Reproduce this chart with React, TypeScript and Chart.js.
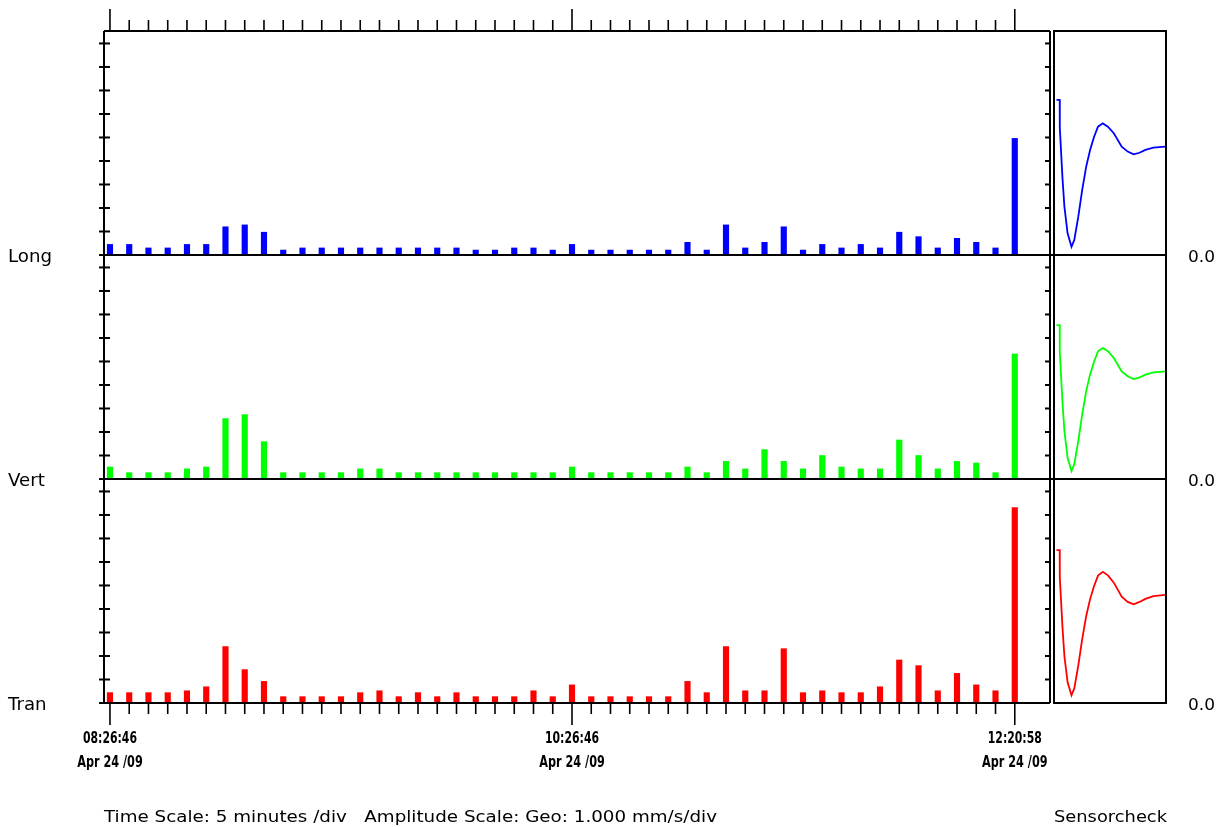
import React, { useEffect, useRef } from "react";
import { Chart, registerables } from "chart.js";

Chart.register(...registerables);

// ---------- data ----------
const barTimes: string[] = [
  "08:26:46", "08:31:46", "08:36:46", "08:41:46", "08:46:46", "08:51:46",
  "08:56:46", "09:01:46", "09:06:46", "09:11:46", "09:16:46", "09:21:46",
  "09:26:46", "09:31:46", "09:36:46", "09:41:46", "09:46:46", "09:51:46",
  "09:56:46", "10:01:46", "10:06:46", "10:11:46", "10:16:46", "10:21:46",
  "10:26:46", "10:31:46", "10:36:46", "10:41:46", "10:46:46", "10:51:46",
  "10:56:46", "11:01:46", "11:06:46", "11:11:46", "11:16:46", "11:21:46",
  "11:26:46", "11:31:46", "11:36:46", "11:41:46", "11:46:46", "11:51:46",
  "11:56:46", "12:01:46", "12:06:46", "12:11:46", "12:16:46", "12:20:58",
];

const longValues: number[] = [
  0.45, 0.45, 0.3, 0.3, 0.45, 0.45, 1.2, 1.28, 0.97, 0.21, 0.3, 0.3,
  0.3, 0.3, 0.3, 0.3, 0.3, 0.3, 0.3, 0.21, 0.21, 0.3, 0.3, 0.21,
  0.45, 0.21, 0.21, 0.21, 0.21, 0.21, 0.54, 0.21, 1.28, 0.3, 0.54, 1.2,
  0.21, 0.45, 0.3, 0.45, 0.3, 0.97, 0.78, 0.3, 0.71, 0.54, 0.3, 4.96,
];

const vertValues: number[] = [
  0.51, 0.27, 0.27, 0.27, 0.43, 0.51, 2.57, 2.74, 1.59, 0.27, 0.27, 0.27,
  0.27, 0.43, 0.43, 0.27, 0.27, 0.27, 0.27, 0.27, 0.27, 0.27, 0.27, 0.27,
  0.51, 0.27, 0.27, 0.27, 0.27, 0.27, 0.51, 0.27, 0.75, 0.43, 1.25, 0.75,
  0.43, 1.0, 0.51, 0.43, 0.43, 1.66, 1.0, 0.43, 0.75, 0.68, 0.27, 5.32,
];

const tranValues: number[] = [
  0.44, 0.44, 0.44, 0.44, 0.52, 0.69, 2.4, 1.42, 0.92, 0.27, 0.27, 0.27,
  0.27, 0.44, 0.52, 0.27, 0.44, 0.27, 0.44, 0.27, 0.27, 0.27, 0.52, 0.27,
  0.77, 0.27, 0.27, 0.27, 0.27, 0.27, 0.92, 0.44, 2.4, 0.52, 0.52, 2.31,
  0.44, 0.52, 0.44, 0.44, 0.69, 1.83, 1.59, 0.52, 1.26, 0.77, 0.52, 8.31,
];

const tickTimes: string[] = ["08:26:46", "10:26:46", "12:20:58"];
const tickDates: string[] = ["Apr 24 /09", "Apr 24 /09", "Apr 24 /09"];

const channelNames: string[] = ["Long", "Vert", "Tran"];
const channelColors: string[] = ["#0000ff", "#00ff00", "#ff0000"];

// sensor check waveform samples
const sensorMs: number[] = [
  2.5, 5.7, 5.8, 8.5, 10.4, 13.6, 17.5, 20.3, 24.3, 28.2, 32.2, 36.1,
  40.1, 44, 48.8, 53.9, 59.8, 67.7, 73.7, 79.6, 85.5, 91.4, 99.4, 111.2,
];
const longWave: number[] = [
  6.6, 6.6, 5.42, 3.26, 2.06, 0.92, 0.35, 0.64, 1.63, 2.77, 3.76, 4.47,
  5.03, 5.46, 5.6, 5.46, 5.18, 4.61, 4.4, 4.28, 4.35, 4.47, 4.57, 4.61,
];
const vertWave: number[] = [
  6.55, 6.55, 5.4, 3.25, 2.05, 0.9, 0.34, 0.63, 1.62, 2.75, 3.74, 4.45,
  5.0, 5.43, 5.57, 5.44, 5.15, 4.58, 4.37, 4.25, 4.32, 4.44, 4.54, 4.58,
];
const tranWave: number[] = [
  6.5, 6.5, 5.35, 3.2, 2.0, 0.88, 0.33, 0.62, 1.6, 2.72, 3.7, 4.42,
  4.98, 5.42, 5.58, 5.43, 5.12, 4.52, 4.3, 4.2, 4.3, 4.43, 4.55, 4.6,
];

const zeroLabel = "0.0";
const footerText = "Time Scale: 5 minutes /div   Amplitude Scale: Geo: 1.000 mm/s/div";
const sideTitle = "Sensorcheck";

// axis ranges (in divisions)
const AMP_MAX = 9.53;
const AMP_STEP = 1;
const X_MIN = -0.31;
const X_MAX = 48.83;
const SENSOR_MAX = 112;

// ---------- styles ----------
const FF = '"DejaVu Sans", "Liberation Sans", sans-serif';
const CF = '"DejaVu Sans Condensed", "Liberation Sans Narrow", "DejaVu Sans", sans-serif';
const INK = "#000";
const LW = 2;

function seg(ctx: CanvasRenderingContext2D, x1: number, y1: number, x2: number, y2: number) {
  ctx.beginPath();
  ctx.moveTo(x1, y1);
  ctx.lineTo(x2, y2);
  ctx.stroke();
}

function drawScaled(
  ctx: CanvasRenderingContext2D,
  text: string,
  x: number,
  baseline: number,
  font: string,
  refText: string,
  refWidth: number,
  align: "left" | "center" | "right"
) {
  ctx.save();
  ctx.font = font;
  ctx.textAlign = "left";
  ctx.textBaseline = "alphabetic";
  ctx.fillStyle = INK;
  const sx = refWidth / ctx.measureText(refText).width;
  const w = ctx.measureText(text).width * sx;
  const x0 = align === "center" ? x - w / 2 : align === "right" ? x - w : x;
  ctx.translate(x0, baseline);
  ctx.scale(sx, 1);
  ctx.fillText(text, 0, 0);
  ctx.restore();
}

const yIds = ["y0", "y1", "y2"];

const mainDecor = {
  id: "mainDecor",
  afterDraw(chart: any) {
    const ctx: CanvasRenderingContext2D = chart.ctx;
    const { left, right, top, bottom } = chart.chartArea;
    const xs = chart.scales.x;
    ctx.save();
    ctx.strokeStyle = INK;
    ctx.lineWidth = LW;
    seg(ctx, left, top, right, top);
    seg(ctx, left, top, left, bottom);
    seg(ctx, right, top, right, bottom);
    yIds.forEach((id, k) => {
      const ys = chart.scales[id];
      const y0 = ys.getPixelForValue(0);
      seg(ctx, left - 5, y0, k < 2 ? right + 4 : right, y0);
      for (let v = AMP_STEP; v < AMP_MAX; v += AMP_STEP) {
        const y = ys.getPixelForValue(v);
        seg(ctx, left - 5, y, left + 6, y);
        seg(ctx, right - 5, y, right, y);
      }
      drawScaled(ctx, channelNames[k], 8, y0 + 6.5, "17px " + FF, "Long", 44, "left");
    });
    ctx.lineWidth = 1.6;
    barTimes.forEach((t, i) => {
      const x = xs.getPixelForValue(i);
      const len = tickTimes.includes(t) ? 22 : 11;
      seg(ctx, x, top, x, top - len);
      seg(ctx, x, bottom, x, bottom + len);
    });
    tickTimes.forEach((t, j) => {
      const x = xs.getPixelForValue(barTimes.indexOf(t));
      drawScaled(ctx, t, x, bottom + 40, "bold 15px " + CF, "12:20:58", 54, "center");
      drawScaled(ctx, tickDates[j], x, bottom + 64, "bold 15px " + CF, "Apr 24 /09", 65.6, "center");
    });
    drawScaled(ctx, footerText, left, bottom + 119, "15px " + FF, footerText, 613, "left");
    ctx.restore();
  },
};

const sideDecor = {
  id: "sideDecor",
  afterDraw(chart: any) {
    const ctx: CanvasRenderingContext2D = chart.ctx;
    const { left, right, top, bottom } = chart.chartArea;
    ctx.save();
    ctx.strokeStyle = INK;
    ctx.lineWidth = LW;
    ctx.strokeRect(left, top, right - left, bottom - top);
    yIds.forEach((id, k) => {
      const ys = chart.scales[id];
      const y0 = ys.getPixelForValue(0);
      if (k < 2) seg(ctx, left, y0, right, y0);
      drawScaled(ctx, zeroLabel, right + 22, y0 + 7, "16px " + FF, "0.0", 27, "left");
    });
    drawScaled(ctx, sideTitle, left, bottom + 119, "15px " + FF, sideTitle, 113, "left");
    ctx.restore();
  },
};

function stackedY(weight: number) {
  return {
    type: "linear" as const,
    axis: "y" as const,
    position: "left" as const,
    stack: "panels",
    stackWeight: 1,
    weight,
    min: 0,
    max: AMP_MAX,
    display: false,
  };
}

export default function App() {
  const mainRef = useRef<HTMLCanvasElement | null>(null);
  const sideRef = useRef<HTMLCanvasElement | null>(null);

  useEffect(() => {
    const series = [longValues, vertValues, tranValues];
    const waves = [longWave, vertWave, tranWave];

    const main = new Chart(mainRef.current as HTMLCanvasElement, {
      type: "bar",
      data: {
        datasets: series.map((vals, k) => ({
          label: channelNames[k],
          data: vals.map((v, i) => ({ x: i, y: v })),
          xAxisID: "x",
          yAxisID: yIds[k],
          backgroundColor: channelColors[k],
          borderWidth: 0,
          barThickness: 5.5,
          grouped: false,
        })),
      } as any,
      options: {
        responsive: false,
        maintainAspectRatio: false,
        animation: false,
        events: [],
        layout: { padding: { left: 104, top: 31, right: 170, bottom: 124 } },
        plugins: { legend: { display: false }, tooltip: { enabled: false }, title: { display: false } },
        scales: {
          x: { type: "linear", axis: "x", min: X_MIN, max: X_MAX, offset: false, display: false },
          y0: stackedY(3),
          y1: stackedY(2),
          y2: stackedY(1),
        } as any,
      },
      plugins: [mainDecor],
    });

    const side = new Chart(sideRef.current as HTMLCanvasElement, {
      type: "line",
      data: {
        datasets: waves.map((w, k) => ({
          label: channelNames[k],
          data: sensorMs.map((t, i) => ({ x: t, y: w[i] })),
          xAxisID: "x",
          yAxisID: yIds[k],
          borderColor: channelColors[k],
          borderWidth: 1.8,
          pointRadius: 0,
          tension: 0,
          fill: false,
        })),
      } as any,
      options: {
        responsive: false,
        maintainAspectRatio: false,
        animation: false,
        events: [],
        layout: { padding: { left: 1054, top: 31, right: 54, bottom: 124 } },
        plugins: { legend: { display: false }, tooltip: { enabled: false }, title: { display: false } },
        scales: {
          x: { type: "linear", axis: "x", min: 0, max: SENSOR_MAX, display: false },
          y0: stackedY(3),
          y1: stackedY(2),
          y2: stackedY(1),
        } as any,
      },
      plugins: [sideDecor],
    });

    return () => {
      main.destroy();
      side.destroy();
    };
  }, []);

  return (
    <div style={{ position: "fixed", left: 0, top: 0, width: 1220, height: 827, background: "#fff" }}>
      <canvas ref={mainRef} width={1220} height={827} style={{ position: "absolute", left: 0, top: 0 }} />
      <canvas ref={sideRef} width={1220} height={827} style={{ position: "absolute", left: 0, top: 0 }} />
    </div>
  );
}
